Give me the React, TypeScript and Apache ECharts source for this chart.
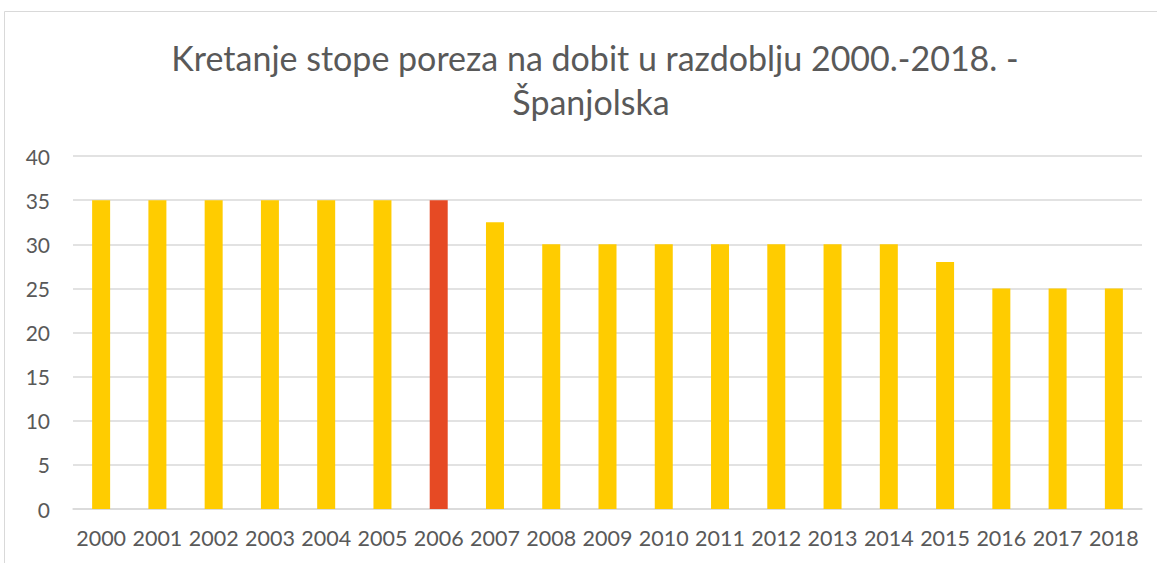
import React, { useEffect, useRef } from "react";
import * as echarts from "echarts";

const titleLines = ["Kretanje stope poreza na dobit u razdoblju 2000.-2018. -", "Španjolska"];
const years = ["2000","2001","2002","2003","2004","2005","2006","2007","2008","2009","2010","2011","2012","2013","2014","2015","2016","2017","2018"];
const rates = [35,35,35,35,35,35,35,32.5,30,30,30,30,30,30,30,28,25,25,25];
const highlightYear = "2006";
const yTicks = { min: 0, max: 40, interval: 5 };

const YELLOW = "#FFCC00";
const RED = "#E64A24";

export default function App() {
  const ref = useRef<HTMLDivElement>(null);
  useEffect(() => {
    const chart = echarts.init(ref.current!, null, { renderer: "svg" });
    chart.setOption({
      animation: false,
      backgroundColor: "#ffffff",
      textStyle: { fontFamily: "Lato" },
      graphic: [
        {
          type: "rect",
          shape: { x: 4.5, y: 11.5, width: 1200, height: 600 },
          style: { fill: "none", stroke: "#d9d9d9", lineWidth: 1 },
          silent: true,
        },
        {
          type: "text",
          x: 595,
          y: 57,
          style: {
            text: titleLines[0],
            fontFamily: "Lato",
            fontSize: 34,
            fill: "#595959",
            align: "center",
            verticalAlign: "middle",
          },
        },
        {
          type: "text",
          x: 591,
          y: 101,
          style: {
            text: titleLines[1],
            fontFamily: "Lato",
            fontSize: 34,
            fill: "#595959",
            align: "center",
            verticalAlign: "middle",
          },
        },
      ],
      grid: { left: 73, right: 15, top: 156, bottom: 54, containLabel: false },
      xAxis: {
        type: "category",
        data: years,
        axisLine: { lineStyle: { color: "#d9d9d9", width: 1.5 } },
        axisTick: { show: false },
        axisLabel: { color: "#595959", fontSize: 21.5, fontFamily: "Lato", margin: 18, interval: 0 },
      },
      yAxis: {
        type: "value",
        min: yTicks.min,
        max: yTicks.max,
        interval: yTicks.interval,
        axisLine: { show: false },
        axisTick: { show: false },
        axisLabel: { color: "#595959", fontSize: 21, fontFamily: "Lato", margin: 23 },
        splitLine: { lineStyle: { color: "#d9d9d9", width: 1.5 } },
      },
      series: [
        {
          type: "bar",
          barWidth: 18,
          data: rates.map((v, i) => ({
            value: v,
            itemStyle: { color: years[i] === highlightYear ? RED : YELLOW },
          })),
        },
      ],
    });
    return () => chart.dispose();
  }, []);
  return (
    <div
      ref={ref}
      style={{ position: "fixed", left: 0, top: 0, width: 1157, height: 563 }}
    />
  );
}
